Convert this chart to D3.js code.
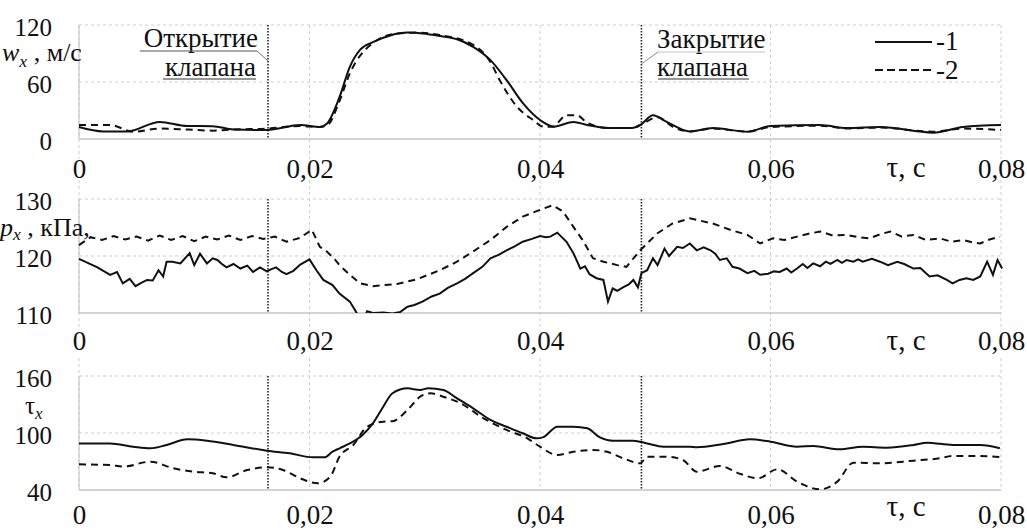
<!DOCTYPE html>
<html><head><meta charset="utf-8">
<script src="https://cdn.jsdelivr.net/npm/d3@7/dist/d3.min.js"></script>
<style>
body{margin:0;background:#fff}
svg{display:block}
text{font-family:"Liberation Serif","Times New Roman",serif;fill:#111}
</style>
</head><body>
<svg id="c" width="1027" height="530"></svg>
<script>
// ---------- data ----------
const tTicks = [0, 0.02, 0.04, 0.06, 0.08];
const tTickLabels = ["0", "0,02", "0,04", "0,06", "0,08"];
const wTicks = [0, 60, 120];
const pTicks = [110, 120, 130];
const tauTicks = [40, 100, 160];
const valveOpen = 0.0164, valveClose = 0.0488;
const legendLabels = ["-1", "-2"];

// w_x, m/s  (1 - solid, 2 - dashed)
const wx1T = [0,0.0021,0.0042,0.0070,0.0094,0.0116,0.0134,0.0163,0.0192,0.0209,0.0215,0.0226,0.0235,0.0244,0.0255,0.0270,0.0285,0.0298,0.0313,0.0328,0.0342,0.0357,0.0371,0.0385,0.0400,0.0412,0.0429,0.0441,0.0460,0.0480,0.0487,0.0498,0.0510,0.0530,0.0550,0.0580,0.0600,0.0643,0.0666,0.0695,0.0741,0.0767,0.0800];
const wx1V = [12.6,8,8,18,13.7,13.5,10,9.5,14.7,12.6,16,44,76,94,102,109,112,111,108.4,105,97,83,62,38,20,13,18,14.7,11.5,11.5,14.7,25,18,8,11.5,7.7,13.7,14.7,11.5,12.6,6.7,12.6,14.7];
const wx2T = [0,0.0027,0.0047,0.0070,0.0094,0.0116,0.0134,0.0163,0.0192,0.0209,0.0216,0.0226,0.0235,0.0255,0.0276,0.0293,0.0313,0.0342,0.0357,0.0365,0.0380,0.0394,0.0403,0.0411,0.0423,0.0432,0.0441,0.0460,0.0480,0.0489,0.0502,0.0515,0.0530,0.0550,0.0580,0.0600,0.0643,0.0666,0.0695,0.0741,0.0767,0.0800];
const wx2V = [14.7,14.7,7.7,11,10,8.8,10,11,13.7,12.6,15,40,69,101,111,112,109.5,99,81,62,34,20,13,13,25,25,17,11.5,11.5,16,23,13,8,11,7.7,12.6,14,11,12,7.7,11,9.5];

// p_x, kPa
const px1T = [0,0.0016,0.0027,0.0033,0.0038,0.0044,0.0049,0.0054,0.0059,0.0064,0.0069,0.0073,0.0076,0.0081,0.0088,0.0096,0.0100,0.0105,0.0111,0.0116,0.0120,0.0124,0.0128,0.0134,0.0140,0.0146,0.0151,0.0157,0.0163,0.0167,0.0171,0.0176,0.0180,0.0186,0.0192,0.0200,0.0206,0.0212,0.0220,0.0226,0.0235,0.0241,0.0246,0.0250,0.0255,0.0264,0.0272,0.0279,0.0285,0.0291,0.0298,0.0306,0.0313,0.0320,0.0328,0.0335,0.0342,0.0350,0.0357,0.0364,0.0371,0.0378,0.0385,0.0393,0.0400,0.0405,0.0409,0.0415,0.0423,0.0429,0.0435,0.0439,0.0443,0.0449,0.0455,0.0459,0.0463,0.0467,0.0472,0.0477,0.0481,0.0485,0.0488,0.0493,0.0498,0.0502,0.0508,0.0512,0.0519,0.0524,0.0530,0.0536,0.0542,0.0548,0.0552,0.0556,0.0562,0.0567,0.0573,0.0580,0.0586,0.0591,0.0598,0.0603,0.0608,0.0614,0.0618,0.0623,0.0628,0.0632,0.0637,0.0643,0.0648,0.0652,0.0658,0.0662,0.0666,0.0672,0.0676,0.0680,0.0688,0.0695,0.0702,0.0710,0.0716,0.0724,0.0730,0.0738,0.0745,0.0753,0.0758,0.0764,0.0770,0.0776,0.0782,0.0788,0.0793,0.0797,0.0801];
const px1V = [119.5,118,116.7,117.2,115.2,116,114.7,115.3,115.8,115.7,117.5,116.4,119,119,118.7,120.5,118.4,120.4,118.7,119.6,119.3,118.6,118,118.6,117.8,118.3,117.2,118,117.3,117.7,118,117.2,116.8,117.4,118.5,119.4,117.5,115.8,114.9,113.4,112,110,108.5,110.3,110,110.1,109.9,110.2,111.1,111.4,112,112.9,113.4,114.4,115.2,116,117,118.1,119.6,120.2,121,121.7,122.5,123,123.5,123.3,123.4,124.1,122.5,120.5,117.8,118.2,116.8,116.1,115.8,112,114.3,113.9,114.5,115,115.8,114.5,117,117.5,119.6,118.4,121.3,120,121.6,121.4,122.2,121,121.5,121,120.4,119.3,119.6,118.1,117.8,117,117.4,116.7,116.9,117.3,117.2,117.8,117.1,117.8,118.6,117.9,118.7,118.2,119,118.6,119.3,118.8,119.3,119,119.4,119,119.5,119,118.4,119,118.6,117.8,117.9,116.4,116.6,115.8,115.2,115.8,116.1,115.8,116.4,119,116.7,119.3,117.8];
const px2T = [0,0.0010,0.0020,0.0030,0.0040,0.0050,0.0060,0.0070,0.0080,0.0090,0.0100,0.0110,0.0120,0.0130,0.0140,0.0150,0.0160,0.0170,0.0180,0.0192,0.0202,0.0209,0.0215,0.0222,0.0226,0.0235,0.0244,0.0255,0.0276,0.0293,0.0313,0.0328,0.0342,0.0357,0.0371,0.0385,0.0400,0.0411,0.0420,0.0429,0.0437,0.0446,0.0455,0.0467,0.0475,0.0487,0.0502,0.0515,0.0530,0.0550,0.0565,0.0580,0.0591,0.0602,0.0612,0.0623,0.0633,0.0643,0.0654,0.0666,0.0676,0.0686,0.0695,0.0704,0.0714,0.0724,0.0735,0.0747,0.0757,0.0767,0.0775,0.0782,0.0790,0.0799];
const px2V = [121.9,123.3,122.8,123.5,122.9,123.4,122.7,123.6,122.8,123.5,122.6,123.4,122.9,123.6,122.8,123.5,123,123.4,122.5,123.2,124.6,121.6,120.8,119.4,118.4,116.7,115.2,114.7,115.1,115.9,117.5,119,120.8,122.8,125.1,126.9,128.1,128.9,127.8,125.1,122.8,119.6,119,118.4,118.1,121,124,125.7,126.6,125.7,124.6,123.7,122.2,123.1,122.8,123.4,123.9,124.3,123.6,123.7,123.3,123.1,123.8,124.3,123.4,123.7,122.8,123.1,122.5,122.8,122.4,122.2,122.9,123.4];

// tau_x
const tau1T = [0,0.0027,0.0047,0.0062,0.0076,0.0094,0.0111,0.0134,0.0163,0.0183,0.0203,0.0213,0.0220,0.0226,0.0235,0.0246,0.0255,0.0264,0.0272,0.0285,0.0296,0.0303,0.0316,0.0328,0.0342,0.0357,0.0371,0.0385,0.0397,0.0403,0.0415,0.0429,0.0441,0.0452,0.0463,0.0481,0.0493,0.0507,0.0530,0.0536,0.0559,0.0582,0.0600,0.0623,0.0637,0.0660,0.0680,0.0701,0.0724,0.0736,0.0758,0.0782,0.0799];
const tau1V = [89,89,85.6,83.9,87.4,93.3,91.9,87.4,81.4,78.6,74.4,74.4,80.3,83.9,89,97.9,110.2,127.7,141.8,147,145.3,147,145.3,136.5,126,113.7,106.6,99.7,94.4,95.7,106.6,106.6,104.9,95.4,91.9,91.9,89,85.6,85.6,85,88.4,93.3,90.9,85.6,86.3,82.8,85.6,84.6,87.4,89.8,87.4,87.4,84];
const tau2T = [0,0.0027,0.0038,0.0062,0.0082,0.0099,0.0116,0.0128,0.0146,0.0163,0.0177,0.0192,0.0207,0.0218,0.0226,0.0238,0.0250,0.0264,0.0272,0.0285,0.0296,0.0305,0.0316,0.0331,0.0351,0.0371,0.0389,0.0400,0.0415,0.0429,0.0446,0.0458,0.0472,0.0487,0.0493,0.0510,0.0524,0.0536,0.0556,0.0574,0.0589,0.0606,0.0623,0.0643,0.0658,0.0672,0.0695,0.0724,0.0747,0.0758,0.0782,0.0801];
const tau2V = [67,66.3,64.6,69.8,62.8,59.3,57.6,53.4,61,63.9,61,52.3,47,54,75,87.4,106.6,111.9,112.4,124.2,138.2,141.8,138.2,131.3,115.5,103.2,94.4,85.6,76.8,80.3,82.1,80.3,73.4,68.1,75,75,71.6,59.3,65.3,56.8,52.3,61.8,48.8,40.7,48.8,68.8,68.1,70.9,73.4,75.8,75.8,74.4];

// ---------- drawing ----------
const FONT = '"Liberation Serif","Times New Roman",serif';
const svg = d3.select("#c");
const x = d3.scaleLinear().domain([0, 0.08]).range([79, 1001]);
const zip = (T, V) => T.map((t, i) => [t, V[i]]);

const panels = [
  {top: 25, h: 114, domain: [0, 120], ticks: wTicks, s1: zip(wx1T, wx1V), s2: zip(wx2T, wx2V),
   curve: d3.curveMonotoneX, xlabOff: 31, tauOff: 29, vExtTop: 0, vExtBot: 20},
  {top: 199, h: 114, domain: [110, 130], ticks: pTicks, s1: zip(px1T, px1V), s2: zip(px2T, px2V),
   curve: d3.curveLinear, xlabOff: 29, tauOff: 28, vExtTop: 19, vExtBot: 18},
  {top: 376, h: 114, domain: [40, 160], ticks: tauTicks, s1: zip(tau1T, tau1V), s2: zip(tau2T, tau2V),
   curve: d3.curveMonotoneX, xlabOff: 26, tauOff: 17, vExtTop: 18, vExtBot: 0}
];

const gridCol = "#cfcfcf";
panels.forEach((p, pi) => {
  const base = p.top + p.h;
  const y = d3.scaleLinear().domain(p.domain).range([base, p.top]);
  const g = svg.append("g");

  tTicks.forEach(t => {
    g.append("line").attr("x1", x(t)).attr("x2", x(t))
      .attr("y1", p.top - p.vExtTop).attr("y2", base + p.vExtBot)
      .attr("stroke", gridCol).attr("stroke-width", 1)
      .attr("stroke-dasharray", "3,3");
  });
  g.append("line").attr("x1", x(0)).attr("x2", x(0)).attr("y1", p.top).attr("y2", base)
    .attr("stroke", "#c8c8c8").attr("stroke-width", 1.2);
  p.ticks.slice(1).forEach(v => {
    g.append("line").attr("x1", x(0)).attr("x2", x(0.08)).attr("y1", y(v)).attr("y2", y(v))
      .attr("stroke", gridCol).attr("stroke-width", 1).attr("stroke-dasharray", "3,3");
  });
  g.append("line").attr("x1", x(0)).attr("x2", x(0.08)).attr("y1", base).attr("y2", base)
    .attr("stroke", "#c4c4c4").attr("stroke-width", 1.5);

  [valveOpen, valveClose].forEach(t => {
    g.append("line").attr("x1", x(t)).attr("x2", x(t)).attr("y1", p.top).attr("y2", base)
      .attr("stroke", "#222").attr("stroke-width", 1.6).attr("stroke-dasharray", "1.5,1.5");
  });

  const cid = "clip" + pi;
  svg.append("clipPath").attr("id", cid).append("rect")
    .attr("x", x(0) - 2).attr("y", p.top - 4).attr("width", x(0.08) - x(0) + 4).attr("height", p.h + 4);

  const line = d3.line().x(d => x(d[0])).y(d => y(d[1])).curve(p.curve);
  g.append("path").attr("clip-path", `url(#${cid})`).attr("d", line(p.s2))
    .attr("fill", "none").attr("stroke", "#111").attr("stroke-width", 2)
    .attr("stroke-dasharray", "7,5");
  g.append("path").attr("clip-path", `url(#${cid})`).attr("d", line(p.s1))
    .attr("fill", "none").attr("stroke", "#111").attr("stroke-width", 2);

  // y tick labels
  const ya = d3.axisLeft(y).tickValues(p.ticks).tickSize(0).tickPadding(27);
  const yg = svg.append("g").attr("transform", `translate(${x(0)},0)`).call(ya);
  yg.select(".domain").remove();
  yg.attr("font-family", FONT).attr("font-size", 25).attr("text-anchor", "end");
  yg.selectAll("text").attr("x", -27).attr("dy", "0.4em").attr("fill", "#111");

  // x tick labels
  const xa = d3.axisBottom(x).tickValues(tTicks).tickSize(0).tickPadding(p.xlabOff - 10)
    .tickFormat((d, i) => tTickLabels[i]);
  const xg = svg.append("g").attr("transform", `translate(0,${base})`).call(xa);
  xg.select(".domain").remove();
  xg.attr("font-family", FONT).attr("font-size", 27);
  xg.selectAll("text").attr("dy", "0.66em").attr("fill", "#111");

  svg.append("text").attr("x", 906).attr("y", base + p.tauOff + 9)
    .attr("text-anchor", "middle").attr("font-size", 29).text("τ, с");
});

// y titles
function title(xp, yp, sym, rest, fs, italicSym, sub) {
  const t = svg.append("text").attr("x", xp).attr("y", yp).attr("font-size", fs);
  t.append("tspan").attr("font-style", italicSym ? "italic" : "normal").text(sym);
  t.append("tspan").attr("font-style", "italic").attr("font-size", fs * 0.68).attr("dy", sub).text("x");
  if (rest) t.append("tspan").attr("dy", -sub).text(rest);
}
title(2, 61, "w", " , м/с", 26, true, 6);
title(0, 236, "p", " , кПа,", 26, true, 4);
title(25, 414, "τ", null, 25, false, 5);

// annotations
const ann = svg.append("g").attr("font-family", FONT);
ann.append("text").attr("x", 258).attr("y", 47).attr("font-size", 27).attr("text-anchor", "end").text("Открытие");
ann.append("text").attr("x", 256).attr("y", 76).attr("font-size", 27).attr("text-anchor", "end").text("клапана");
ann.append("line").attr("x1", 140).attr("x2", 257).attr("y1", 51).attr("y2", 51).attr("stroke", "#555").attr("stroke-width", 1);
ann.append("line").attr("x1", 163).attr("x2", 256).attr("y1", 79).attr("y2", 79).attr("stroke", "#333").attr("stroke-width", 1.2);
ann.append("line").attr("x1", 257).attr("x2", x(valveOpen)).attr("y1", 51).attr("y2", 61).attr("stroke", "#777").attr("stroke-width", 1);
ann.append("text").attr("x", 657).attr("y", 48).attr("font-size", 27).text("Закрытие");
ann.append("text").attr("x", 657).attr("y", 76).attr("font-size", 27).text("клапана");
ann.append("line").attr("x1", 658).attr("x2", 765).attr("y1", 52).attr("y2", 52).attr("stroke", "#c4c4c4").attr("stroke-width", 1);
ann.append("line").attr("x1", 658).attr("x2", 749).attr("y1", 79).attr("y2", 79).attr("stroke", "#333").attr("stroke-width", 1.2);
ann.append("line").attr("x1", x(valveClose)).attr("x2", 658).attr("y1", 64).attr("y2", 52).attr("stroke", "#888").attr("stroke-width", 1);

// legend
const lg = svg.append("g").attr("font-family", FONT);
lg.append("line").attr("x1", 875).attr("x2", 932).attr("y1", 42).attr("y2", 42).attr("stroke", "#111").attr("stroke-width", 2);
lg.append("line").attr("x1", 875).attr("x2", 933).attr("y1", 70).attr("y2", 70).attr("stroke", "#111").attr("stroke-width", 2).attr("stroke-dasharray", "8,4");
lg.append("text").attr("x", 936).attr("y", 50).attr("font-size", 27).text(legendLabels[0]);
lg.append("text").attr("x", 936).attr("y", 79).attr("font-size", 27).text(legendLabels[1]);
</script>
</body></html>
